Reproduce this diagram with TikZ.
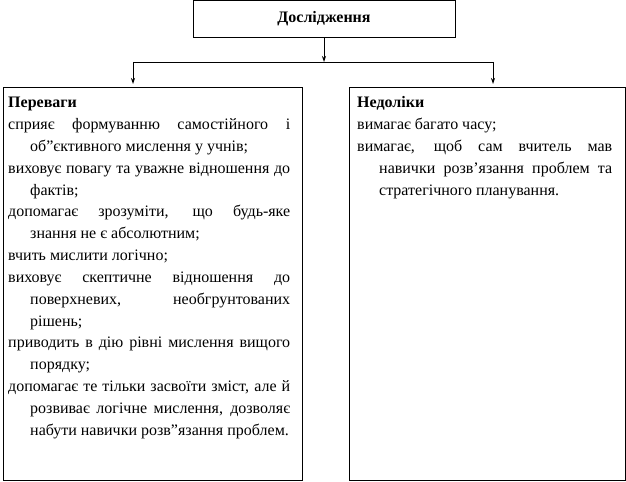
\documentclass[tikz,border=0pt]{standalone}
\usepackage{fontspec}
\setmainfont{Liberation Serif}
\usetikzlibrary{arrows.meta, positioning}

\newcommand{\hitem}[1]{\par\parindent=0pt\hangindent=22bp\hangafter=1\relax #1}

\begin{document}
\begin{tikzpicture}[x=1bp, y=-1bp, >={Stealth[length=6bp, width=4bp]}, font=\fontsize{16bp}{21.8bp}\selectfont]
		\tikzstyle{box} = [draw=black, rectangle, line width=1bp, inner sep=0pt]
		\tikzstyle{list} = [inner sep=0pt, anchor=base west, align=justify,
			execute at begin node={\tolerance=10000\hbadness=10000\hyphenpenalty=10000\exhyphenpenalty=10000}]
		\tikzstyle{arrow} = [line width=0.8bp, ->]

		\useasboundingbox (0,0) rectangle (626,482);

		\node[box, minimum width=262bp, minimum height=37bp, font=\fontsize{16bp}{20bp}\selectfont\bfseries] at (324,19) (root) {Дослідження};
		\node[box, minimum width=299bp, minimum height=393bp, anchor=north west] at (2.5,87) (pros) {};
		\node[box, minimum width=276bp, minimum height=393bp, anchor=north west] at (349,87) (cons) {};

		\coordinate (split) at (324,62);
		\coordinate (sl) at (133,62);
		\coordinate (sr) at (493,62);

		\node[list, text width=282bp] at (8,108) (prostext) {\textbf{Переваги}
			\hitem{сприяє формуванню самостійного і\linebreak об”єктивного мислення у учнів;}
			\hitem{виховує повагу та уважне відношення до\linebreak фактів;}
			\hitem{допомагає зрозуміти, що будь-яке\linebreak знання не є абсолютним;}
			\hitem{вчить мислити логічно;}
			\hitem{виховує скептичне відношення до\linebreak поверхневих, необгрунтованих\linebreak рішень;}
			\hitem{приводить в дію рівні мислення вищого\linebreak порядку;}
			\hitem{допомагає те тільки засвоїти зміст, але й\linebreak розвиває логічне мислення, дозволяє\linebreak набути навички розв”язання проблем.}\par};

		\node[list, text width=255bp] at (357,108) (constext) {\textbf{Недоліки}
			\hitem{вимагає багато часу;}
			\hitem{вимагає, щоб сам вчитель мав\linebreak навички розв’язання проблем та\linebreak стратегічного планування.}\par};

		\draw [arrow] (root) -- (split);
		\draw [line width=0.8bp] (sl) -- (sr);
		\draw [arrow, shorten >=3bp] (sl) -- (sl |- pros.north);
		\draw [arrow, shorten >=3bp] (sr) -- (sr |- cons.north);
	\end{tikzpicture}
\end{document}
